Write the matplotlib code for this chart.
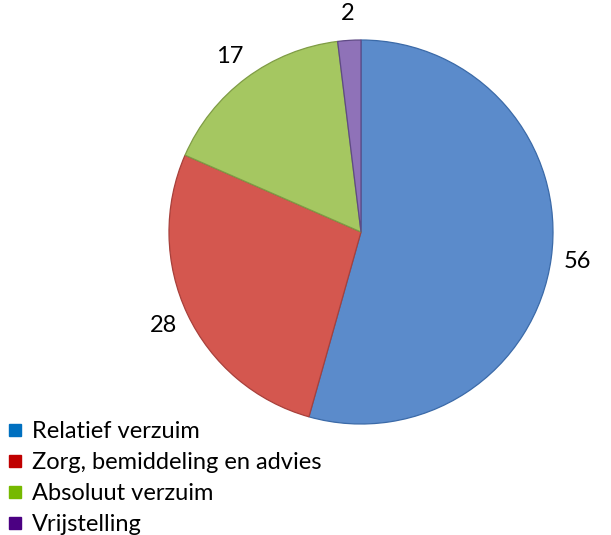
import matplotlib.pyplot as plt
from matplotlib.lines import Line2D

labels = ["Relatief verzuim", "Zorg, bemiddeling en advies", "Absoluut verzuim", "Vrijstelling"]
values = [56, 28, 17, 2]
slice_colors = ["#5b8bcb", "#d4574f", "#a5c761", "#8f72b8"]
legend_colors = ["#0070c0", "#c00000", "#76b900", "#4b0082"]

plt.rcParams['font.family'] = ['Lato', 'DejaVu Sans']

fig = plt.figure(figsize=(6.11, 5.35), dpi=100)
ax = fig.add_axes([0, 0, 1, 1])

wedges, texts = ax.pie(values, center=(361, 303), radius=192, startangle=90,
                       counterclock=False, colors=slice_colors,
                       labels=[str(v) for v in values], labeldistance=1.14,
                       textprops=dict(fontsize=17, color="black"))
for t in texts:
    t.set_ha('center')
    t.set_va('center')
# darker edges per slice
edge_cols = ["#3b6aa8", "#a8403b", "#7f9c45", "#5f4a85"]
for w, c in zip(wedges, edge_cols):
    w.set_edgecolor(c)
    w.set_linewidth(0.9)

ax.set_xlim(0, 611)
ax.set_ylim(0, 535)
ax.set_aspect('equal')
ax.axis('off')

handles = [Line2D([], [], marker='s', linestyle='none', markersize=8,
                  markerfacecolor=c, markeredgecolor=c) for c in legend_colors]
fig.legend(handles, labels, loc='upper left', bbox_to_anchor=(-0.008, 0.235),
           frameon=False, fontsize=17, handlelength=0.7, handletextpad=0.35,
           labelspacing=0.42, borderaxespad=0.1)

fig.savefig("out.png", dpi=100)
